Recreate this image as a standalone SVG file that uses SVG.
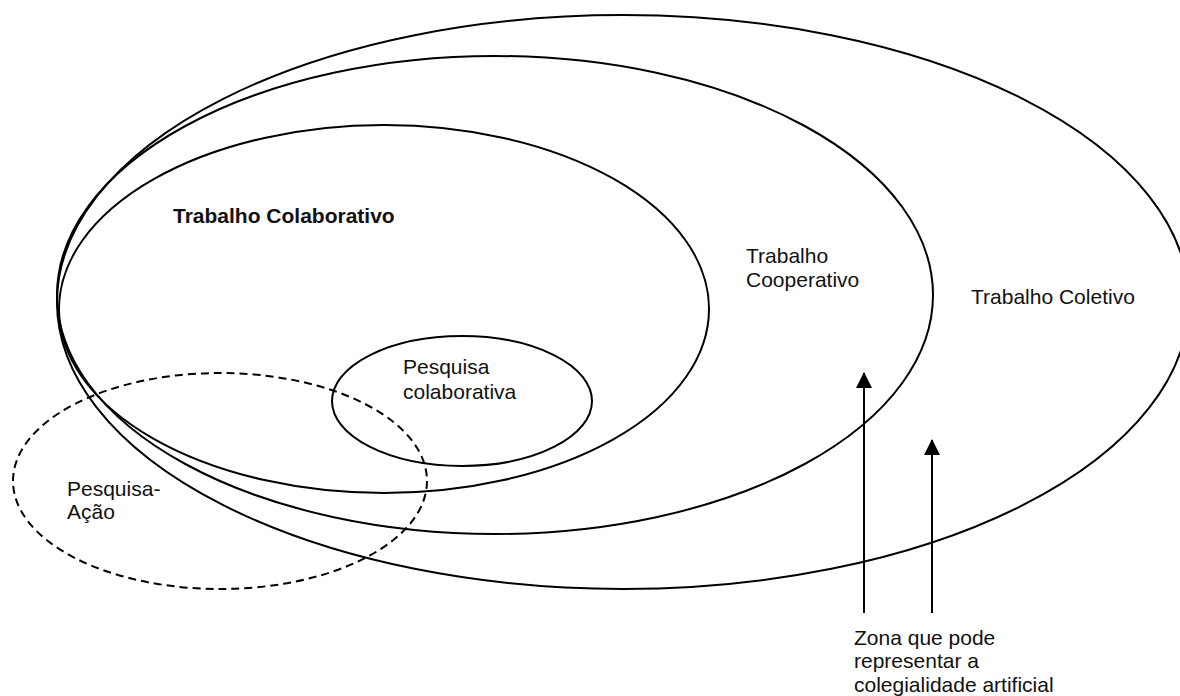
<svg xmlns="http://www.w3.org/2000/svg" width="1180" height="696" viewBox="0 0 1180 696">
  <style>
    .e { fill: none; stroke: #000; stroke-width: 2; }
    .d { fill: none; stroke: #000; stroke-width: 2; stroke-dasharray: 8 5; }
    .t { font-family: "Liberation Sans", Arial, sans-serif; font-size: 21px; fill: #111; }
    .b { font-weight: bold; }
    .a { stroke: #000; stroke-width: 2; fill: none; }
  </style>
  <defs>
    <marker id="ah" markerWidth="8" markerHeight="8" refX="7.5" refY="4" orient="auto" markerUnits="strokeWidth">
      <path d="M0,0 L8,4 L0,8 Z" fill="#000"/>
    </marker>
  </defs>
  <rect width="1180" height="696" fill="#fff"/>
  <g id="coletivo">
    <ellipse class="e" cx="623" cy="302" rx="566" ry="287"/>
    <text class="t" x="971" y="304">Trabalho Coletivo</text>
  </g>
  <g id="cooperativo">
    <ellipse class="e" cx="495" cy="295" rx="438" ry="239"/>
    <text class="t" x="746" y="263">Trabalho</text>
    <text class="t" x="746" y="287">Cooperativo</text>
  </g>
  <g id="colaborativo">
    <ellipse class="e" cx="384" cy="309" rx="325" ry="184"/>
    <text class="t b" x="173" y="223">Trabalho Colaborativo</text>
  </g>
  <g id="pesquisa-colaborativa">
    <ellipse class="e" cx="462" cy="401" rx="130" ry="65"/>
    <text class="t" x="403" y="374">Pesquisa</text>
    <text class="t" x="403" y="399">colaborativa</text>
  </g>
  <g id="pesquisa-acao">
    <ellipse class="d" cx="220" cy="481" rx="207" ry="108"/>
    <text class="t" x="67" y="496">Pesquisa-</text>
    <text class="t" x="67" y="519">Ação</text>
  </g>
  <g id="connectors">
    <line class="a" x1="864" y1="613" x2="864" y2="373" marker-end="url(#ah)"/>
    <line class="a" x1="932" y1="613" x2="932" y2="440" marker-end="url(#ah)"/>
  </g>
  <g id="zona-label">
    <text class="t" x="854" y="645">Zona que pode</text>
    <text class="t" x="854" y="668">representar a</text>
    <text class="t" x="854" y="692">colegialidade artificial</text>
  </g>
</svg>
